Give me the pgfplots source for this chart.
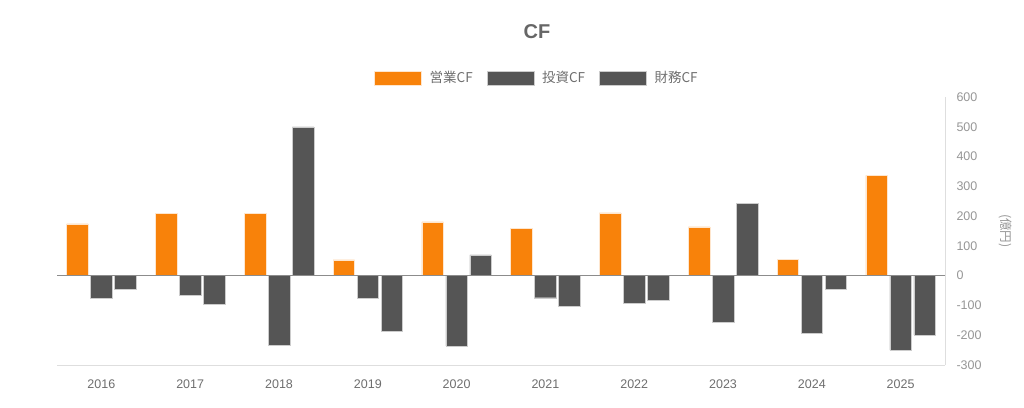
\documentclass[border=0pt]{standalone}
\usepackage{pgfplots}
\pgfplotsset{compat=1.18}
\usepackage{fontspec}
\setmainfont{Liberation Sans}
\newfontfamily\jp{Noto Sans CJK JP}
\definecolor{cforange}{RGB}{248,130,10}
\definecolor{cfgray}{RGB}{85,85,85}
\definecolor{ticktxt}{RGB}{150,150,150}
\definecolor{xtxt}{RGB}{110,110,110}
\begin{document}
\begin{tikzpicture}[x=1pt,y=1pt]
\useasboundingbox (0,0) rectangle (1024,407);
\begin{axis}[
  at={(57pt,42pt)}, anchor=south west,
  width=888pt, height=268pt, scale only axis,
  xmin=-0.5, xmax=9.5, ymin=-300, ymax=600,
  enlargelimits=false,
  ybar=2.5pt, bar width=21.5pt,
  xtick={0,...,9},
  xticklabels={2016,2017,2018,2019,2020,2021,2022,2023,2024,2025},
  ytick={-300,-200,...,600},
  axis x line*=bottom, axis y line*=right,
  axis line style={draw=black!13},
  major tick length=0pt,
  /pgf/number format/assume math mode=true,
  xticklabel style={font=\fontsize{12.5}{14}\selectfont, text=xtxt, yshift=-11pt},
  yticklabel style={font=\fontsize{12.5}{14}\selectfont, text=ticktxt, xshift=8pt},
  legend columns=3,
  legend style={draw=none, fill=none, at={(0.5405,1.071)}, anchor=center,
    font=\jp\fontsize{13.5}{15}\selectfont, text=xtxt,
    /tikz/every odd column/.append style={column sep=6pt},
    /tikz/every even column/.append style={column sep=12pt}},
  legend image code/.code={\fill[#1] (0pt,-7pt) rectangle (47pt,7pt);},
]
\addplot[fill=cforange, draw=white!80!cforange, line width=0.4pt] coordinates {
(0,174) (1,209) (2,209) (3,53) (4,181) (5,160) (6,211) (7,164) (8,54) (9,337)};
\addplot[fill=cfgray, draw=white!70!cfgray, line width=0.4pt] coordinates {
(0,-75) (1,-65) (2,-233) (3,-77) (4,-236) (5,-74) (6,-92) (7,-156) (8,-194) (9,-250)};
\addplot[fill=cfgray, draw=white!70!cfgray, line width=0.4pt] coordinates {
(0,-47) (1,-95) (2,500) (3,-185) (4,70) (5,-104) (6,-82) (7,242) (8,-45) (9,-199)};
\legend{営業CF,投資CF,財務CF}
\draw[black!45, line width=0.8pt] (axis cs:-0.5,0) -- (axis cs:9.5,0);
\end{axis}
\node[font=\bfseries\fontsize{20}{24}\selectfont, text=black!60] at (537,375) {CF};
\node[font=\jp\fontsize{12.5}{14}\selectfont, text=ticktxt, rotate=-90] at (1005,176) {(億円)};
\end{tikzpicture}
\end{document}
